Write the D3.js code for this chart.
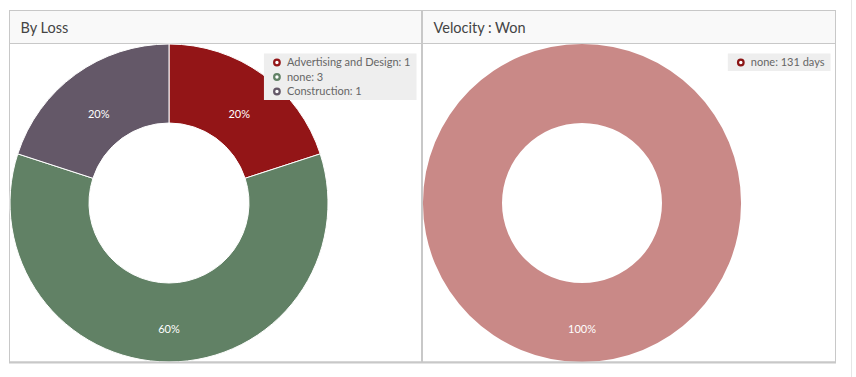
<!DOCTYPE html>
<html><head><meta charset="utf-8">
<script src="https://cdn.jsdelivr.net/npm/d3@7"></script>
<style>
html,body{margin:0;padding:0;background:#fff;}
svg{display:block;font-family:Lato,"Open Sans",sans-serif;}
</style></head>
<body>
<svg id="chart" width="856" height="377"></svg>
<script>
const lossCategories = ["Advertising and Design", "none", "Construction"];
const lossValues = [1, 3, 1];
const lossColors = ["#931517", "#618165", "#645868"];
const velocityCategories = ["none"];
const velocityValues = [131];
const velocityUnits = "days";
const velocityColors = ["#c98987"];
const velocityLegendColors = ["#8b1515"];
const panelTitles = ["By Loss", "Velocity : Won"];

(function(){
const svg = d3.select("#chart");
const panels = [
  {x: 9.5, w: 412, title: panelTitles[0], cats: lossCategories, vals: lossValues, colors: lossColors, legendColors: lossColors, fmt: (c,v)=>`${c}: ${v}`},
  {x: 422.5, w: 413, title: panelTitles[1], cats: velocityCategories, vals: velocityValues, colors: velocityColors, legendColors: velocityLegendColors, fmt: (c,v)=>`${c}: ${v} ${velocityUnits}`}
];
const panelTop = 10.5, headerH = 33, panelBottom = 362;

svg.append("line").attr("x1",851.5).attr("x2",851.5).attr("y1",0).attr("y2",377).attr("stroke","#e6e6e6");

panels.forEach(p => {
  const g = svg.append("g");
  g.append("rect").attr("x", p.x).attr("y", panelTop).attr("width", p.w).attr("height", headerH)
    .attr("fill", "#f9f9f9");
  g.append("rect").attr("x", p.x).attr("y", panelTop).attr("width", p.w).attr("height", panelBottom - panelTop)
    .attr("fill", "none").attr("stroke", "#c8c8c8");
  g.append("line").attr("x1", p.x).attr("x2", p.x + p.w).attr("y1", panelTop + headerH).attr("y2", panelTop + headerH)
    .attr("stroke", "#c8c8c8");
  g.append("text").attr("x", p.x + 11).attr("y", panelTop + 22).attr("font-size", 14.5)
    .attr("font-weight", 400).attr("fill", "#444").text(p.title);

  const cx = p.x + 159.5, cy = 203, R = 159, r = 80;
  const pie = d3.pie().sort(null).value(d => d);
  const arcs = pie(p.vals);
  const arc = d3.arc().innerRadius(r).outerRadius(R);
  const total = d3.sum(p.vals);
  const pg = g.append("g").attr("transform", `translate(${cx},${cy})`);
  pg.selectAll("path").data(arcs).join("path")
    .attr("d", arc).attr("fill", (d,i) => p.colors[i])
    .attr("stroke", "#fff").attr("stroke-width", p.vals.length > 1 ? 1 : 0);
  pg.selectAll("text").data(arcs).join("text")
    .attr("transform", d => { const c = arc.centroid(d); return `translate(${c[0]},${c[1] + (c[1] < 0 ? 12 : 10)})`; })
    .attr("text-anchor", "middle").attr("font-size", 11).attr("font-weight", 400).attr("fill", "#fff")
    .text(d => Math.round(d.value / total * 100) + "%");

  const labels = p.cats.map((c,i) => p.fmt(c, p.vals[i]));
  const lg = g.append("g");
  const rowH = 14.5;
  const fs = 11;
  const tmp = lg.append("g");
  const texts = tmp.selectAll("text").data(labels).join("text")
    .attr("font-size", fs).text(d => d);
  const maxW = d3.max(texts.nodes(), n => n.getComputedTextLength());
  tmp.remove();
  const boxW = maxW + 29, boxH = labels.length * rowH + 3;
  const bx = p.x + p.w - 5 - boxW, by = 53.5;
  lg.append("rect").attr("x", bx).attr("y", by).attr("width", boxW).attr("height", boxH).attr("fill", "#eeeeee");
  labels.forEach((t, i) => {
    const yy = by + 9 + i * rowH;
    lg.append("circle").attr("cx", bx + 13).attr("cy", yy).attr("r", 2.8)
      .attr("fill", "#fff").attr("stroke", p.legendColors[i]).attr("stroke-width", 2.2);
    lg.append("text").attr("x", bx + 23).attr("y", yy + 3.5).attr("font-size", fs)
      .attr("fill", "#666").text(t);
  });
});
svg.append("line").attr("x1", 9).attr("x2", 836).attr("y1", 362.5).attr("y2", 362.5)
  .attr("stroke", "#c8c8c8").attr("stroke-width", 2);
})();
</script>
</body></html>
